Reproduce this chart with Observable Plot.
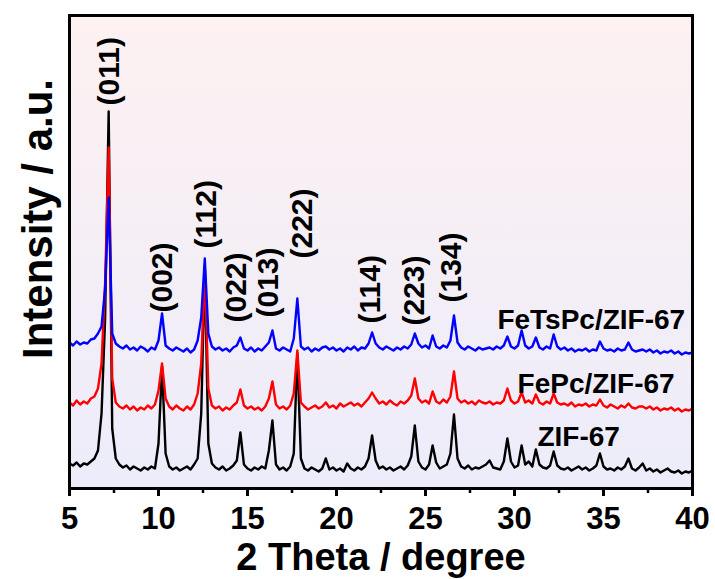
<!DOCTYPE html>
<html><head><meta charset="utf-8">
<script src="https://cdn.jsdelivr.net/npm/d3@7"></script>
<script src="https://cdn.jsdelivr.net/npm/@observablehq/plot@0.6"></script>
<style>body{margin:0;background:#fff}</style>
</head><body><div id="chart"></div>
<script>
// 2θ sampling positions (degree)
const twoTheta = [
5.0,5.2,5.4,5.6,5.8,6.0,6.2,6.4,6.6,6.8,
7.0,7.2,7.4,7.6,7.8,8.0,8.2,8.4,8.6,8.8,
9.0,9.2,9.4,9.6,9.8,10.0,10.2,10.4,10.6,10.8,
11.0,11.2,11.4,11.6,11.8,12.0,12.2,12.4,12.6,12.8,
13.0,13.2,13.4,13.6,13.8,14.0,14.2,14.4,14.6,14.8,
15.0,15.2,15.4,15.6,15.8,16.0,16.2,16.4,16.6,16.8,
17.0,17.2,17.4,17.6,17.8,18.0,18.2,18.4,18.6,18.8,
19.0,19.2,19.4,19.6,19.8,20.0,20.2,20.4,20.6,20.8,
21.0,21.2,21.4,21.6,21.8,22.0,22.2,22.4,22.6,22.8,
23.0,23.2,23.4,23.6,23.8,24.0,24.2,24.4,24.6,24.8,
25.0,25.2,25.4,25.6,25.8,26.0,26.2,26.4,26.6,26.8,
27.0,27.2,27.4,27.6,27.8,28.0,28.2,28.4,28.6,28.8,
29.0,29.2,29.4,29.6,29.8,30.0,30.2,30.4,30.6,30.8,
31.0,31.2,31.4,31.6,31.8,32.0,32.2,32.4,32.6,32.8,
33.0,33.2,33.4,33.6,33.8,34.0,34.2,34.4,34.6,34.8,
35.0,35.2,35.4,35.6,35.8,36.0,36.2,36.4,36.6,36.8,
37.0,37.2,37.4,37.6,37.8,38.0,38.2,38.4,38.6,38.8,
39.0,39.2,39.4,39.6,39.8,40.0];

// Intensity (a.u., stacked as plotted)
const zif67 = [
25,23,26,22,25,24,27,30,38,75,
170,377,60,30,24,21,23,19,22,20,
18,21,19,22,20,45,122,35,22,19,
21,18,20,22,19,24,30,75,222,45,
25,21,19,22,18,20,23,28,56,24,
20,18,21,19,22,20,38,68,24,19,
21,18,22,35,135,30,20,18,21,19,
17,20,30,19,21,18,20,17,25,20,
18,21,19,22,30,53,28,20,22,19,
21,18,20,22,19,23,32,63,27,21,
19,24,43,26,20,22,24,35,74,30,
22,20,23,19,21,20,22,24,28,21,
20,19,27,50,27,21,23,43,24,27,
22,39,24,21,20,23,37,23,20,19,
21,18,20,22,19,21,18,20,23,35,
22,19,20,18,21,19,22,30,20,18,
21,25,18,20,17,19,16,18,20,17,
16,18,15,17,16,18];

const fepcZif67 = [
86,83,88,84,87,85,90,92,100,125,
205,341,110,86,82,80,83,79,82,78,
81,79,83,80,84,98,125,90,82,79,
83,80,78,82,79,84,95,125,220,100,
83,80,82,78,81,79,83,86,99,83,
80,82,79,81,78,82,90,107,84,80,
82,79,83,95,138,86,82,79,81,83,
80,82,86,81,83,80,85,82,84,86,
83,85,82,86,90,96,90,85,87,84,
88,85,83,87,85,88,93,110,90,86,
88,85,97,87,85,89,86,92,117,90,
86,88,85,87,84,88,86,85,87,84,
86,85,88,100,88,85,87,96,86,88,
85,94,86,84,87,85,95,86,84,85,
83,86,82,84,83,85,82,84,83,89,
83,81,84,82,80,83,81,85,81,80,
82,82,80,82,79,81,78,80,79,81,
78,80,77,79,78,80];

const fetspcZif67 = [
146,143,147,144,146,145,149,150,155,162,
200,291,155,145,142,140,143,139,141,138,
142,140,137,141,139,148,175,143,140,138,
141,139,137,140,136,139,148,171,230,155,
142,139,141,138,140,137,141,143,151,140,
138,141,137,140,138,142,146,158,140,138,
141,139,137,150,190,142,139,141,137,140,
138,141,142,139,141,138,140,137,141,139,
142,138,141,140,145,156,145,141,139,142,
140,138,141,139,142,140,144,155,145,141,
143,140,153,142,140,143,141,148,173,146,
141,139,142,140,138,141,139,140,141,139,
142,140,143,152,142,140,143,158,143,140,
142,151,141,139,142,140,154,142,139,141,
138,140,137,139,138,140,137,139,138,147,
140,138,139,137,140,138,139,146,139,137,
138,139,137,139,136,138,135,137,136,138,
135,137,134,136,135,136];

const seriesNames = ["ZIF-67", "FePc/ZIF-67", "FeTsPc/ZIF-67"];
const seriesColors = ["#000000", "#ff0000", "#0000ff"];
const seriesLabelTheta = [31.29, 30.17, 29.04];
const seriesLabelY = [43, 96, 160];

const peakLabels = ["(011)","(002)","(112)","(022)","(013)","(222)","(114)","(223)","(134)"];
const peakLabelTheta = [7.25, 10.2, 12.7, 14.4, 16.2, 18.1, 21.9, 24.4, 26.45];
const peakLabelY = [383, 176, 240, 166, 171, 230, 165, 163, 186];

const majorTicks = [5, 10, 15, 20, 25, 30, 35, 40];
const minorTicks = [7.5, 12.5, 17.5, 22.5, 27.5, 32.5, 37.5];
const xLabel = "2 Theta / degree";
const yLabel = "Intensity / a.u.";

const allSeries = [zif67, fepcZif67, fetspcZif67];
allSeries.forEach((s, k) => { if (s.length !== twoTheta.length) throw new Error(seriesNames[k] + " length " + s.length); });

const FONT = "'Liberation Sans', Arial, Helvetica, sans-serif";
const rowsOf = (vals) => twoTheta.map((t, i) => ({t, v: vals[i]}));

const chart = Plot.plot({
  width: 715, height: 579,
  marginLeft: 69, marginRight: 23, marginTop: 15, marginBottom: 91,
  style: {fontFamily: FONT, background: "white", overflow: "visible"},
  x: {domain: [5, 40]},
  y: {domain: [0, 473], axis: null},
  marks: [
    Plot.frame({fill: "url(#bgGrad)", stroke: null}),
    ...allSeries.map((s, k) => Plot.line(rowsOf(s), {x: "t", y: "v", stroke: seriesColors[k], strokeWidth: 2.4})),
    Plot.frame({stroke: "black", strokeWidth: 3}),
    Plot.axisX({ticks: majorTicks, tickSize: 8, strokeWidth: 3, tickPadding: 10, fontSize: 31, fontWeight: "bold", label: null, tickFormat: d => String(d)}),
    Plot.axisX({ticks: minorTicks, tickSize: 5, strokeWidth: 2.5, label: null, tickFormat: () => ""}),
    Plot.text([xLabel], {frameAnchor: "bottom", dy: 81, lineAnchor: "bottom", fontSize: 38, fontWeight: "bold"}),
    Plot.text([yLabel], {frameAnchor: "left", dx: -31, dy: -33, rotate: -90, textAnchor: "middle", fontSize: 42, fontWeight: "bold"}),
    Plot.text(peakLabels, {x: (d, i) => peakLabelTheta[i], y: (d, i) => peakLabelY[i], text: d => d, rotate: -90, textAnchor: "start", lineAnchor: "middle", fontSize: 30, fontWeight: "bold"}),
    Plot.text(seriesNames, {x: (d, i) => seriesLabelTheta[i], y: (d, i) => seriesLabelY[i], text: d => d, textAnchor: "start", lineAnchor: "bottom", fontSize: 28, fontWeight: "bold"})
  ]
});

const defs = d3.select(chart).insert("defs", ":first-child");
const grad = defs.append("linearGradient").attr("id", "bgGrad").attr("x1", 0).attr("y1", 0).attr("x2", 0).attr("y2", 1);
grad.append("stop").attr("offset", "0%").attr("stop-color", "#fdf1f1");
grad.append("stop").attr("offset", "100%").attr("stop-color", "#ececfa");

document.getElementById("chart").appendChild(chart);
</script>
</body></html>
